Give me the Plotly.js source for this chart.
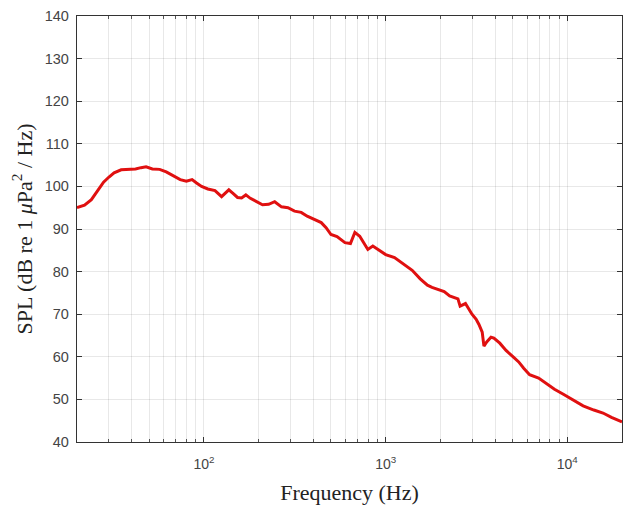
<!DOCTYPE html>
<html><head><meta charset="utf-8">
<script src="https://cdn.plot.ly/plotly-3.0.1.min.js"></script>
<style>body{margin:0;background:#fff}#c{width:624px;height:512px}</style>
</head><body><div id="c"></div>
<script>
const freqHz = [20,22,24,26,28,30,32,35,38,42,45,48,52,57,62,68,74,80,86,91,97,105,115,125,131,137,145,153,161,170,180,195,210,227,245,267,290,315,343,370,400,442,470,500,540,597,640,677,720,760,798,850,904,1000,1119,1250,1400,1550,1698,1800,1924,2100,2250,2381,2500,2570,2750,2987,3150,3263,3400,3476,3600,3800,3943,4250,4600,5000,5400,5754,6200,6950,7680,8500,9510,10500,12220,14000,15730,17500,19240,20000];
const splDb = [95,95.6,96.9,99,101,102.2,103.2,103.9,104,104.1,104.4,104.6,104.1,104,103.4,102.5,101.6,101.2,101.6,100.8,100,99.4,99,97.6,98.4,99.2,98.3,97.4,97.3,98,97.2,96.4,95.7,95.8,96.4,95.2,95,94.2,93.9,93,92.4,91.5,90.3,88.7,88.2,86.8,86.6,89.2,88.3,86.7,85.2,86,85.2,84,83.3,81.8,80.3,78.3,76.8,76.3,75.8,75.3,74.3,74,73.6,71.9,72.5,70,68.8,67.6,65.8,62.5,63.5,64.6,64.4,63.2,61.5,60.1,58.8,57.3,55.8,55,53.7,52.4,51.2,50.1,48.5,47.5,46.8,45.8,45,44.7];
const xTickVals = [100,1000,10000];
const xTickText = ['10<sup>2</sup>','10<sup>3</sup>','10<sup>4</sup>'];
const yTickVals = [40,50,60,70,80,90,100,110,120,130,140];

const minorVals = [];
[10,100,1000,10000].forEach(d=>{for(let k=2;k<=9;k++){const v=k*d; if(v>=20&&v<=20000) minorVals.push(v);}});

const grid = 'rgba(0,0,0,0.09)';
const trace = {x:freqHz, y:splDb, type:'scatter', mode:'lines',
  line:{color:'#e01010', width:3}, hoverinfo:'skip'};
const layout = {
  width:624, height:512,
  margin:{l:77, r:2, t:16, b:70},
  paper_bgcolor:'#fff', plot_bgcolor:'#fff',
  showlegend:false,
  font:{family:'Liberation Sans, Arial, sans-serif', color:'#333', size:14},
  xaxis:{type:'log', range:[Math.log10(20), Math.log10(20000)],
    tickmode:'array', tickvals:xTickVals, ticktext:xTickText,
    ticks:'inside', ticklen:5, tickcolor:'#333', tickwidth:1,
    ticklabelstandoff:9,
    showgrid:true, gridcolor:grid, gridwidth:1,
    minor:{tickmode:'array', tickvals:minorVals, ticks:'inside', ticklen:3, tickcolor:'#555', showgrid:true, gridcolor:grid, gridwidth:1},
    showline:true, linecolor:'#333', linewidth:1.2, mirror:'ticks', zeroline:false,
    tickfont:{family:'Liberation Sans, Arial, sans-serif', size:14, color:'#444'},
    title:{text:'Frequency (Hz)', standoff:13, font:{family:'Liberation Serif, Times New Roman, serif', size:22, color:'#222'}}
  },
  yaxis:{range:[40,140], tickmode:'array', tickvals:yTickVals,
    ticks:'inside', ticklen:5, tickcolor:'#333',
    ticklabelstandoff:4,
    showgrid:true, gridcolor:grid, gridwidth:1,
    showline:true, linecolor:'#333', linewidth:1.2, mirror:'ticks', zeroline:false,
    tickfont:{family:'Liberation Sans, Arial, sans-serif', size:14.5, color:'#444'},
    title:{text:'SPL (dB re 1 <i>μ</i>Pa<sup>2</sup> / Hz)', standoff:6, font:{family:'Liberation Serif, Times New Roman, serif', size:22, color:'#222'}}
  }
};
Plotly.newPlot('c',[trace],layout,{staticPlot:true,displayModeBar:false});
</script></body></html>
